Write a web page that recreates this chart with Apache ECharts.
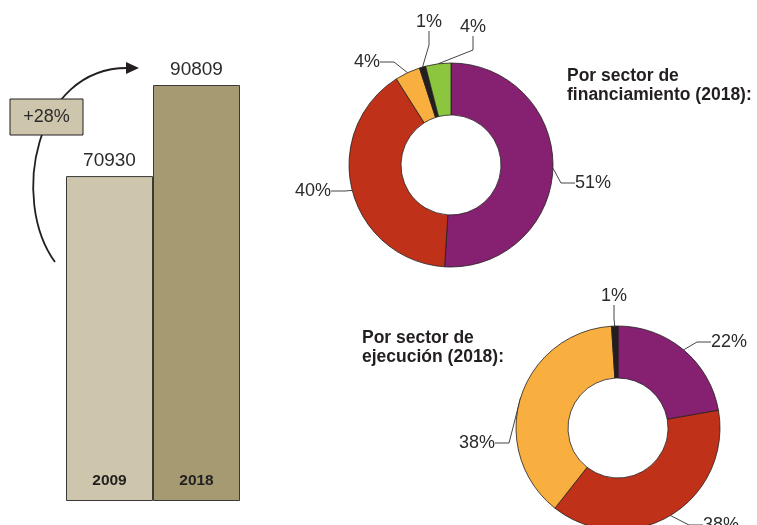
<!DOCTYPE html>
<html>
<head>
<meta charset="utf-8">
<script src="https://cdn.jsdelivr.net/npm/echarts@6/dist/echarts.min.js"></script>
<style>
  html, body { margin: 0; padding: 0; background: #fff; }
  #main { width: 757px; height: 525px; }
</style>
</head>
<body>
<div id="main"></div>
<script>
// datos
var years = ['2009', '2018']
var gasto = [70930, 90809]
var barColors = ['#cdc6ad', '#a69a73']
var growthLabel = '+28%'

// Por sector de financiamiento (2018)
var finValues = [51, 40, 4, 1, 4]
var finColors = ['#862070', '#bf3118', '#f9ae40', '#231f20', '#8cc63f']

// Por sector de ejecución (2018)
var ejeValues = [22, 38, 38, 1]
var ejeColors = ['#862070', '#bf3118', '#f9ae40', '#231f20']

// posiciones de las etiquetas (centro del texto)
var finLabelPos = [[593, 183], [313, 191], [367, 62], [429, 22], [473, 27]]
var ejeLabelPos = [[729, 342], [721, 525], [477, 443], [614, 296]]

var textColor = '#231f20'
var font = 'Liberation Sans, Arial, sans-serif'

function pieData (values, colors) {
  return values.map(function (v, i) {
    return { value: v, itemStyle: { color: colors[i] } }
  })
}

function placeLabels (pos) {
  return function (params) {
    var p = pos[params.dataIndex]
    return { x: p[0], y: p[1], align: 'center', verticalAlign: 'middle' }
  }
}

var pieBase = {
  type: 'pie',
  radius: [50, 102],
  startAngle: 90,
  clockwise: true,
  avoidLabelOverlap: false,
  itemStyle: { borderColor: '#231f20', borderWidth: 0.8 },
  label: {
    show: true,
    formatter: '{c}%',
    color: '#2b2b2b',
    fontFamily: font,
    fontSize: 18
  },
  labelLine: {
    show: true,
    length: 8,
    length2: 14,
    lineStyle: { color: '#444', width: 1 }
  },
  emphasis: { disabled: true }
}

var chart = echarts.init(document.getElementById('main'))

var option = {
  animation: false,
  title: [
    {
      text: 'Por sector de\nfinanciamiento (2018):',
      left: 562,
      top: 62,
      textStyle: { fontFamily: font, fontSize: 17.5, fontWeight: 'bold', color: textColor, lineHeight: 19 }
    },
    {
      text: 'Por sector de\nejecución (2018):',
      left: 357,
      top: 324,
      textStyle: { fontFamily: font, fontSize: 17.5, fontWeight: 'bold', color: textColor, lineHeight: 19 }
    }
  ],
  grid: {
    left: 66,
    width: 174,
    top: 85,
    bottom: 24
  },
  xAxis: {
    type: 'category',
    data: years,
    z: 10,
    axisLine: { show: false },
    axisTick: { show: false },
    axisLabel: {
      inside: true,
      margin: 12,
      fontFamily: font,
      fontSize: 15.5,
      fontWeight: 'bold',
      color: textColor
    }
  },
  yAxis: {
    type: 'value',
    min: 0,
    max: 90809,
    show: false
  },
  series: [
    {
      type: 'bar',
      barCategoryGap: '0%',
      data: gasto.map(function (v, i) {
        return { value: v, itemStyle: { color: barColors[i] } }
      }),
      itemStyle: { borderColor: '#3a3a3a', borderWidth: 1 },
      label: {
        show: true,
        position: 'top',
        distance: 6,
        fontFamily: font,
        fontSize: 19,
        color: '#2b2b2b'
      },
      z: 2
    },
    Object.assign({}, pieBase, {
      center: [451, 165],
      data: pieData(finValues, finColors),
      labelLayout: placeLabels(finLabelPos)
    }),
    Object.assign({}, pieBase, {
      center: [618, 428],
      data: pieData(ejeValues, ejeColors),
      labelLayout: placeLabels(ejeLabelPos)
    })
  ],
  graphic: [
    {
      type: 'bezierCurve',
      z: 10,
      shape: { x1: 55, y1: 262, cpx1: 10, cpy1: 200, cpx2: 35, cpy2: 68, x2: 127, y2: 68 },
      style: { fill: null, stroke: '#231f20', lineWidth: 1.8 }
    },
    {
      type: 'polygon',
      z: 10,
      shape: { points: [[126, 62], [139, 68], [126, 74]] },
      style: { fill: '#231f20' }
    },
    {
      type: 'rect',
      z: 11,
      shape: { x: 10, y: 99, width: 73, height: 36 },
      style: { fill: '#cdc6ad', stroke: '#231f20', lineWidth: 1 }
    },
    {
      type: 'text',
      z: 12,
      x: 46.5,
      y: 117,
      style: {
        text: growthLabel,
        align: 'center',
        verticalAlign: 'middle',
        fontFamily: font,
        fontSize: 18,
        fill: '#2b2b2b'
      }
    }
  ]
}

chart.setOption(option)
</script>
</body>
</html>
